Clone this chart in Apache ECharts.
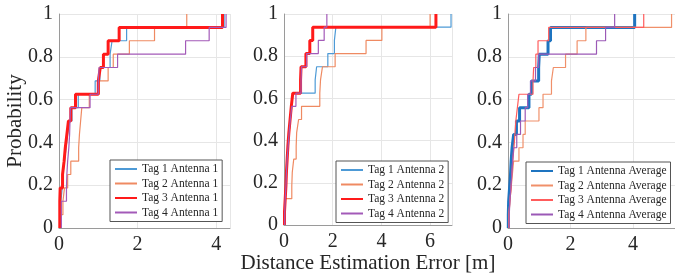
<!DOCTYPE html>
<html><head><meta charset="utf-8">
<script src="https://cdn.jsdelivr.net/npm/echarts@6/dist/echarts.min.js"></script>
<style>html,body{margin:0;padding:0;background:#fff}#c{width:675px;height:279px}</style>
</head><body><div id="c"></div>
<script>
// Sorted error samples (m), 16 per tag; CDF rises 1/16 at each value
const p1Tag1 = [0.03,0.05,0.08,0.10,0.14,0.18,0.22,0.27,0.33,0.49,0.92,1.04,1.30,1.35,1.72,4.20];
const p1Tag2 = [0.04,0.10,0.14,0.22,0.30,0.50,0.52,0.55,0.58,0.77,1.02,1.25,1.38,1.79,2.43,3.25];
const p1Tag3 = [0.02,0.02,0.03,0.09,0.13,0.16,0.20,0.24,0.30,0.42,1.00,1.05,1.13,1.25,1.53,4.16];
const p1Tag4 = [0.06,0.06,0.19,0.20,0.22,0.25,0.27,0.28,0.29,0.79,1.00,1.02,1.49,3.22,3.82,4.25];

const p2Tag1 = [0.02,0.04,0.06,0.10,0.13,0.17,0.21,0.26,0.31,0.38,1.28,1.34,1.80,2.07,2.13,6.86];
const p2Tag2 = [0.03,0.05,0.32,0.34,0.40,0.50,0.52,0.60,0.72,1.47,1.50,1.58,2.10,3.37,4.02,6.00];
const p2Tag3 = [0.02,0.05,0.08,0.10,0.13,0.16,0.20,0.25,0.30,0.36,0.68,0.70,0.90,1.06,1.18,6.24];
const p2Tag4 = [0.03,0.05,0.08,0.10,0.13,0.17,0.21,0.26,0.32,0.49,0.70,0.72,0.93,1.41,1.65,1.76];

const p3Tag1 = [0.01,0.02,0.05,0.08,0.10,0.13,0.18,0.27,0.37,0.67,0.75,0.98,1.00,1.28,1.36,4.05];
const p3Tag2 = [0.03,0.06,0.10,0.14,0.18,0.35,0.48,0.55,0.99,1.12,1.39,1.45,1.84,2.21,2.49,5.23];
const p3Tag3 = [0.03,0.06,0.10,0.12,0.15,0.19,0.22,0.25,0.30,0.35,0.80,0.82,0.89,0.96,1.30,4.34];
const p3Tag4 = [0.04,0.06,0.09,0.12,0.15,0.18,0.28,0.40,0.55,0.63,0.72,0.88,0.98,2.83,3.12,3.41];

const names1 = ['Tag 1 Antenna 1','Tag 2 Antenna 1','Tag 3 Antenna 1','Tag 4 Antenna 1'];
const names2 = ['Tag 1 Antenna 2','Tag 2 Antenna 2','Tag 3 Antenna 2','Tag 4 Antenna 2'];
const names3 = ['Tag 1 Antenna Average','Tag 2 Antenna Average','Tag 3 Antenna Average','Tag 4 Antenna Average'];
const xMaxes = [4.35, 6.9, 5.34];
const xLabel = 'Distance Estimation Error [m]';
const yLabel = 'Probability';

function cdf(vals){
  const n = vals.length;
  const pts = [[vals[0], 0]];
  vals.forEach((v,i)=>pts.push([v,(i+1)/n]));
  return pts;
}

const FONT = 'Liberation Serif';
const grids = [
  {left:59, top:14, width:171, height:214},
  {left:284, top:14, width:168, height:214},
  {left:508, top:14, width:167, height:214}
];
const xAxes = [], yAxes = [];
grids.forEach((g,i)=>{
  xAxes.push({type:'value', gridIndex:i, min:0, max:xMaxes[i], interval:2,
    axisLine:{show:true,lineStyle:{color:'#9a9a9a',width:1}}, axisTick:{show:false},
    axisLabel:{color:'#262626', fontFamily:FONT, fontSize:20, margin:7, showMaxLabel:false,
      formatter:v=>String(v)},
    splitLine:{show:true,lineStyle:{color:'#e6e6e6',width:1}},
    name: i===1 ? xLabel : '', nameLocation:'middle', nameGap:28, nameMoveOverlap:false,
    nameTextStyle:{color:'#262626', fontFamily:FONT, fontSize:21}
  });
  yAxes.push({type:'value', gridIndex:i, min:0, max:1, interval:0.2,
    axisLine:{show:true,lineStyle:{color:'#9a9a9a',width:1}}, axisTick:{show:false},
    axisLabel:{color:'#262626', fontFamily:FONT, fontSize:20, margin:6,
      formatter:v=>String(Math.round(v*10)/10)},
    splitLine:{show:true,lineStyle:{color:'#e6e6e6',width:1}},
    name: i===0 ? yLabel : '', nameLocation:'middle', nameGap:33, nameMoveOverlap:false,
    nameTextStyle:{color:'#262626', fontFamily:FONT, fontSize:21}
  });
});

const styles12 = [
  {color:'#4d9ad6', width:1.2},
  {color:'#ef8a62', width:1.2},
  {color:'#ff1a1a', width:3},
  {color:'#a35ab8', width:1.2}
];
const styles3 = [
  {color:'#1e74c0', width:3},
  {color:'#f0906a', width:1.2},
  {color:'#ff5c5c', width:1.2},
  {color:'#9b59b6', width:1.2}
];
const panels = [
  {data:[p1Tag1,p1Tag2,p1Tag3,p1Tag4], names:names1, st:styles12},
  {data:[p2Tag1,p2Tag2,p2Tag3,p2Tag4], names:names2, st:styles12},
  {data:[p3Tag1,p3Tag2,p3Tag3,p3Tag4], names:names3, st:styles3}
];
const series = [];
const legends = [];
const legendPos = [{left:110, top:160}, {left:336, top:161}, {left:526, top:162}];
panels.forEach((p,pi)=>{
  p.data.forEach((d,si)=>{
    series.push({type:'line', name:p.names[si], xAxisIndex:pi, yAxisIndex:pi,
      data:cdf(d), step:'end', symbol:'none', showSymbol:false, silent:true, animation:false,
      color:p.st[si].color,
      lineStyle:{color:p.st[si].color, width:p.st[si].width}});
  });
  legends.push({show:true, data:p.names.slice(), orient:'vertical',
    left:legendPos[pi].left, top:legendPos[pi].top,
    itemWidth:22, itemHeight:2, itemGap:0.5, padding:[2,4,2,4],
    itemStyle:{opacity:0},
    borderColor:'#555', borderWidth:1, backgroundColor:'#fff',
    textStyle:{fontFamily:FONT, fontSize:11.5, color:'#262626', lineHeight:14},
    selectedMode:false});
});

const chart = echarts.init(document.getElementById('c'), null, {renderer:'canvas'});
chart.setOption({animation:false, backgroundColor:'#fff', grid:grids, xAxis:xAxes, yAxis:yAxes, series:series, legend:legends});
</script></body></html>
